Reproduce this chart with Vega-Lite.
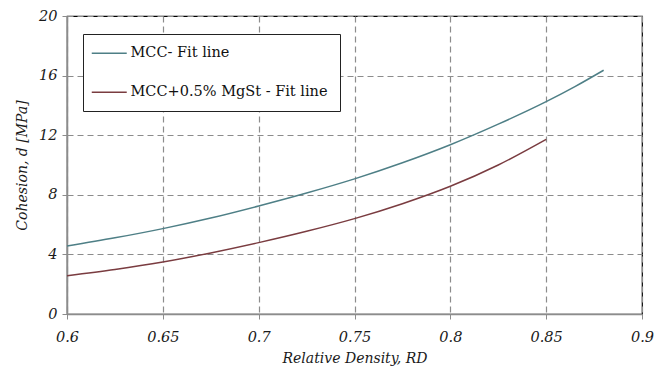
{
  "$schema": "https://vega.github.io/schema/vega-lite/v6.json",
  "width": 575,
  "height": 298,
  "autosize": {"type": "none"},
  "padding": {"left": 67, "top": 16, "right": 13, "bottom": 58},
  "background": "white",
  "config": {
    "view": {"stroke": "#000000", "strokeWidth": 1.2},
    "font": "DejaVu Serif"
  },
  "data": {
    "values": [
      {"rd": 0.6, "c": 4.56, "s": "MCC- Fit line"},
      {"rd": 0.625, "c": 5.11, "s": "MCC- Fit line"},
      {"rd": 0.65, "c": 5.73, "s": "MCC- Fit line"},
      {"rd": 0.675, "c": 6.44, "s": "MCC- Fit line"},
      {"rd": 0.7, "c": 7.25, "s": "MCC- Fit line"},
      {"rd": 0.725, "c": 8.12, "s": "MCC- Fit line"},
      {"rd": 0.75, "c": 9.07, "s": "MCC- Fit line"},
      {"rd": 0.775, "c": 10.15, "s": "MCC- Fit line"},
      {"rd": 0.8, "c": 11.36, "s": "MCC- Fit line"},
      {"rd": 0.825, "c": 12.74, "s": "MCC- Fit line"},
      {"rd": 0.85, "c": 14.25, "s": "MCC- Fit line"},
      {"rd": 0.865, "c": 15.26, "s": "MCC- Fit line"},
      {"rd": 0.88, "c": 16.36, "s": "MCC- Fit line"},
      {"rd": 0.6, "c": 2.57, "s": "MCC+0.5% MgSt - Fit line"},
      {"rd": 0.625, "c": 2.99, "s": "MCC+0.5% MgSt - Fit line"},
      {"rd": 0.65, "c": 3.49, "s": "MCC+0.5% MgSt - Fit line"},
      {"rd": 0.675, "c": 4.1, "s": "MCC+0.5% MgSt - Fit line"},
      {"rd": 0.7, "c": 4.79, "s": "MCC+0.5% MgSt - Fit line"},
      {"rd": 0.725, "c": 5.55, "s": "MCC+0.5% MgSt - Fit line"},
      {"rd": 0.75, "c": 6.4, "s": "MCC+0.5% MgSt - Fit line"},
      {"rd": 0.775, "c": 7.4, "s": "MCC+0.5% MgSt - Fit line"},
      {"rd": 0.8, "c": 8.57, "s": "MCC+0.5% MgSt - Fit line"},
      {"rd": 0.825, "c": 10.0, "s": "MCC+0.5% MgSt - Fit line"},
      {"rd": 0.85, "c": 11.72, "s": "MCC+0.5% MgSt - Fit line"}
    ]
  },
  "mark": {"type": "line", "strokeWidth": 1.5, "interpolate": "monotone"},
  "encoding": {
    "x": {
      "field": "rd",
      "type": "quantitative",
      "scale": {"domain": [0.6, 0.9], "nice": false, "zero": false},
      "axis": {
        "title": "Relative Density, RD",
        "values": [0.6, 0.65, 0.7, 0.75, 0.8, 0.85, 0.9],
        "labelExpr": "datum.value == 0.6 ? '0.6' : datum.value == 0.7 ? '0.7' : datum.value == 0.8 ? '0.8' : datum.value == 0.9 ? '0.9' : format(datum.value, '.2f')",
        "labelFlush": false,
        "grid": true,
        "gridColor": "#8c8c8c",
        "gridDash": [6, 4],
        "gridWidth": 1.2,
        "domainColor": "#8c8c8c",
        "domainWidth": 1.5,
        "tickColor": "#8c8c8c",
        "tickSize": 5,
        "labelFont": "DejaVu Serif",
        "labelFontStyle": "italic",
        "labelFontSize": 14.5,
        "labelColor": "#1a1a1a",
        "labelPadding": 11,
        "titleFont": "DejaVu Serif",
        "titleFontStyle": "italic",
        "titleFontWeight": "normal",
        "titleFontSize": 14,
        "titleColor": "#1a1a1a",
        "titlePadding": 8
      }
    },
    "y": {
      "field": "c",
      "type": "quantitative",
      "scale": {"domain": [0, 20], "nice": false},
      "axis": {
        "title": "Cohesion, d [MPa]",
        "values": [0, 4, 8, 12, 16, 20],
        "labelFlush": false,
        "grid": true,
        "gridColor": "#8c8c8c",
        "gridDash": [6, 4],
        "gridWidth": 1.2,
        "domainColor": "#8c8c8c",
        "domainWidth": 1.5,
        "tickColor": "#8c8c8c",
        "tickSize": 5,
        "labelFont": "DejaVu Serif",
        "labelFontStyle": "italic",
        "labelFontSize": 14.5,
        "labelColor": "#1a1a1a",
        "labelPadding": 5,
        "titleFont": "DejaVu Serif",
        "titleFontStyle": "italic",
        "titleFontWeight": "normal",
        "titleFontSize": 14,
        "titleColor": "#1a1a1a",
        "titlePadding": 9
      }
    },
    "color": {
      "field": "s",
      "type": "nominal",
      "scale": {
        "domain": ["MCC- Fit line", "MCC+0.5% MgSt - Fit line"],
        "range": ["#4e7f86", "#7a3c40"]
      },
      "legend": {
        "title": null,
        "orient": "none",
        "legendX": 16,
        "legendY": 18,
        "symbolType": "M-3,0H3",
        "symbolSize": 136,
        "symbolStrokeWidth": 1.5,
        "symbolOffset": 7,
        "labelFont": "DejaVu Serif",
        "labelFontSize": 14.5,
        "labelColor": "#111111",
        "labelOffset": 14,
        "labelLimit": 400,
        "rowPadding": 24,
        "padding": 12,
        "strokeColor": "#222222",
        "fillColor": "white"
      }
    }
  }
}
